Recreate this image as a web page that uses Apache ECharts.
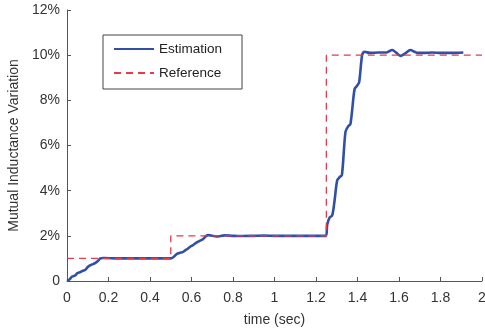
<!DOCTYPE html>
<html>
<head>
<meta charset="utf-8">
<script src="https://cdn.jsdelivr.net/npm/echarts@6/dist/echarts.min.js"></script>
<style>
  html, body { margin: 0; padding: 0; background: #fff; }
  #chart { width: 485px; height: 330px; }
</style>
</head>
<body>
<div id="chart"></div>
<script>
// estimated curve (time in sec, value in %)
const estTime = [0, 0.01, 0.025, 0.04, 0.05, 0.065, 0.075, 0.089, 0.1, 0.113, 0.125, 0.137, 0.15, 0.161, 0.175,
  0.25, 0.3, 0.35, 0.4, 0.45, 0.5, 0.512, 0.53, 0.545, 0.557, 0.57, 0.582, 0.595, 0.605, 0.618, 0.63, 0.642, 0.655, 0.671, 0.682,
  0.7, 0.72, 0.76, 0.8, 0.85, 0.9, 0.95, 1.0, 1.05, 1.1, 1.15, 1.2, 1.248,
  1.254, 1.265, 1.278, 1.29, 1.302, 1.314, 1.325, 1.342, 1.355, 1.366, 1.386, 1.398, 1.408, 1.422, 1.432, 1.44,
  1.46, 1.5, 1.54, 1.567, 1.588, 1.607, 1.63, 1.655, 1.675, 1.69, 1.72, 1.76, 1.8, 1.85, 1.91];
const estValue = [0, 0.05, 0.2, 0.25, 0.35, 0.4, 0.45, 0.5, 0.62, 0.7, 0.75, 0.8, 0.9, 1.0, 1.02,
  1.0, 1.0, 1.0, 1.0, 1.0, 1.0, 1.05, 1.2, 1.25, 1.28, 1.36, 1.43, 1.53, 1.58, 1.66, 1.73, 1.79, 1.85, 2.0, 2.03,
  2.0, 1.97, 2.02, 2.0, 1.99, 2.0, 2.01, 2.0, 2.0, 2.0, 2.0, 2.0, 2.0,
  2.5, 2.8, 2.9, 3.6, 4.45, 4.6, 4.7, 6.6, 6.85, 6.95, 8.5, 8.65, 8.8, 10.0, 10.15, 10.14,
  10.1, 10.12, 10.12, 10.23, 10.1, 9.97, 10.08, 10.23, 10.15, 10.1, 10.1, 10.12, 10.1, 10.1, 10.12];

// reference step signal
const refTime = [0, 0.5, 0.5, 1.25, 1.25, 2];
const refValue = [1, 1, 2, 2, 10, 10];

const yTicks = ['0', '2%', '4%', '6%', '8%', '10%', '12%'];

const estData = estTime.map((t, i) => [t, estValue[i]]);
const refData = refTime.map((t, i) => [t, refValue[i]]);

const myChart = echarts.init(document.getElementById('chart'));

const axisCol = '#555';
const textCol = '#333';
const fontFam = 'Liberation Sans, Arial, sans-serif';

const option = {
  animation: false,
  textStyle: { fontFamily: fontFam },
  grid: { left: 67, right: 3, top: 10, bottom: 49, outerBoundsMode: 'none' },
  legend: {
    orient: 'vertical',
    left: 103,
    top: 35,
    padding: [7, 20, 9, 10],
    itemGap: 10,
    itemWidth: 40,
    itemHeight: 14,
    borderColor: '#444',
    borderWidth: 1,
    // hide the marker, keep only the line
    itemStyle: { color: 'transparent', borderWidth: 0, opacity: 0 },
    textStyle: { color: '#222', fontSize: 13.5, fontFamily: fontFam },
    data: ['Estimation', 'Reference']
  },
  xAxis: {
    type: 'value',
    min: 0,
    max: 2,
    interval: 0.2,
    name: 'time (sec)',
    nameLocation: 'middle',
    nameGap: 32,
    nameTextStyle: { color: textCol, fontSize: 14 },
    axisLine: { lineStyle: { color: axisCol } },
    axisTick: { inside: true, length: 4, lineStyle: { color: axisCol } },
    axisLabel: {
      color: textCol, fontSize: 14, margin: 10,
      formatter: v => String(Math.round(v * 10) / 10)
    },
    splitLine: { show: false }
  },
  yAxis: {
    type: 'value',
    min: 0,
    max: 12,
    interval: 2,
    name: 'Mutual Inductance Variation',
    nameLocation: 'middle',
    nameGap: 45,
    nameTextStyle: { color: textCol, fontSize: 14 },
    axisLine: { show: true, lineStyle: { color: axisCol } },
    axisTick: { show: true, inside: true, length: 4, lineStyle: { color: axisCol } },
    axisLabel: {
      color: textCol, fontSize: 14, margin: 7,
      formatter: v => yTicks[Math.round(v / 2)]
    },
    splitLine: { show: false }
  },
  series: [
    {
      name: 'Estimation',
      type: 'line',
      data: estData,
      symbol: 'none',
      smooth: 0.3,
      z: 2,
      lineStyle: { color: '#2f50a6', width: 2.6 },
      itemStyle: { color: '#2f50a6' }
    },
    {
      name: 'Reference',
      type: 'line',
      data: refData,
      symbol: 'none',
      z: 3,
      lineStyle: { color: '#e8394d', width: 1.3, type: [7, 5] },
      itemStyle: { color: '#e8394d' }
    }
  ]
};

myChart.setOption(option);
</script>
</body>
</html>
